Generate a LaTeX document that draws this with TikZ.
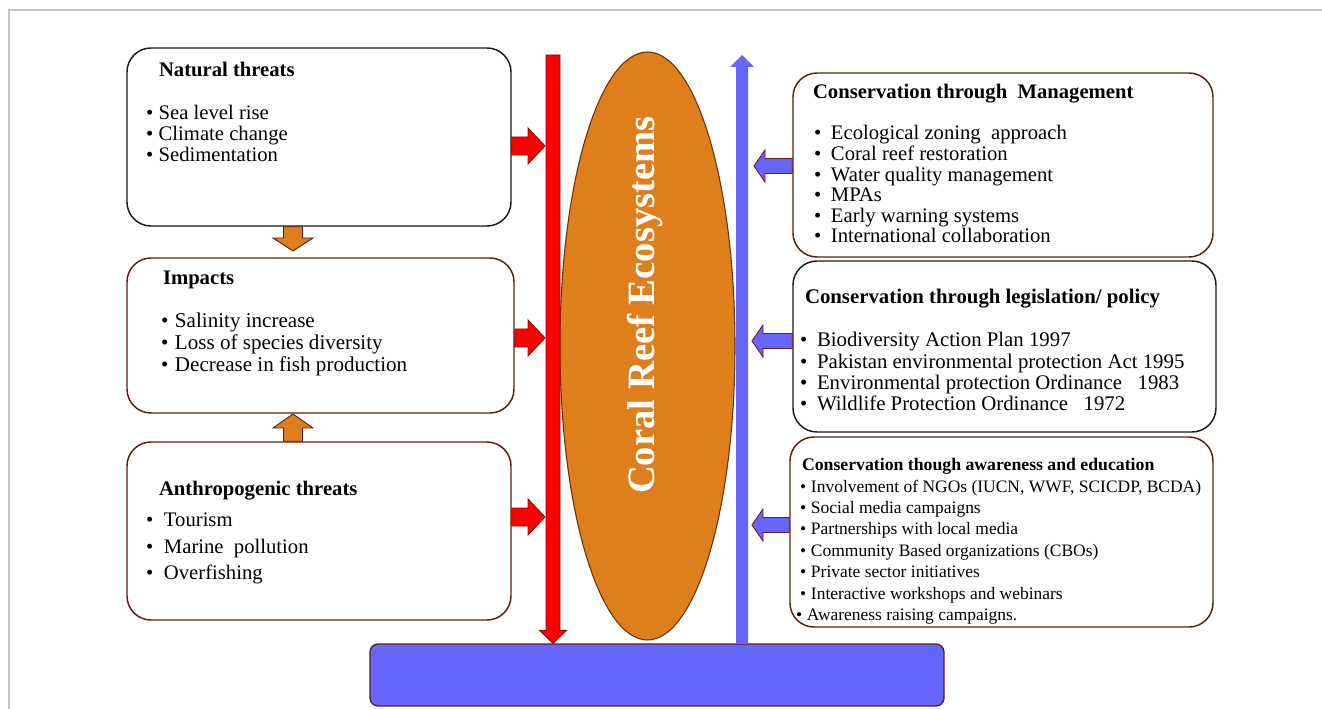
\documentclass[tikz,border=0pt]{standalone}
\usepackage{fontspec}
\setmainfont{Liberation Serif}
\usetikzlibrary{shapes.geometric,calc}
\definecolor{framegray}{HTML}{C4C4C4}
\definecolor{boxbrown}{HTML}{5A1E12}
\definecolor{boxblack}{HTML}{1A1A1A}
\definecolor{arrred}{HTML}{FF0000}
\definecolor{arrredline}{HTML}{8A0A0A}
\definecolor{reeforange}{HTML}{DF7F1C}
\definecolor{reefline}{HTML}{6B3208}
\definecolor{lblue}{HTML}{6666FF}
\definecolor{blueline}{HTML}{6E1E1E}
\newcommand\hblk[7]{\draw[#1] ($(#2)+(0,-#5)$) -- ($(#3)+({-(#4)*(#7)},-#5)$) -- ($(#3)+({-(#4)*(#7)},-#6)$) -- (#3) -- ($(#3)+({-(#4)*(#7)},#6)$) -- ($(#3)+({-(#4)*(#7)},#5)$) -- ($(#2)+(0,#5)$) -- cycle;}
\newcommand\vblk[7]{\draw[#1] ($(#2)+(-#5,0)$) -- ($(#3)+(-#5,{-(#4)*(#7)})$) -- ($(#3)+(-#6,{-(#4)*(#7)})$) -- (#3) -- ($(#3)+(#6,{-(#4)*(#7)})$) -- ($(#3)+(#5,{-(#4)*(#7)})$) -- ($(#2)+(#5,0)$) -- cycle;}
\begin{document}
\begin{tikzpicture}[x=0.75pt,y=-0.75pt,
  box/.style={draw, rounded corners=18pt, line width=1.1pt, fill=white, inner sep=0pt},
  redblk/.style={fill=arrred, draw=arrredline, line width=0.7pt, line join=miter},
  orblk/.style={fill=reeforange, draw=boxbrown, line width=0.7pt, line join=miter},
  blueblk/.style={fill=lblue, draw=blueline, line width=0.7pt, line join=miter},
  bluebar/.style={fill=lblue, draw=none},
  txt/.style={anchor=base west, inner sep=0pt, outer sep=0pt},
  ttl/.style={txt, font=\fontsize{15.5}{18}\selectfont\bfseries},
]
\useasboundingbox (0,0) rectangle (1322,709);
\fill[white] (0,0) rectangle (1322,709);
\draw[framegray, line width=1pt] (9,709) -- (9,10) -- (1322,10);

% boxes
\node[box, draw=boxblack, minimum width=288pt, minimum height=133.5pt] (nat) at (319,137) {};
\node[box, draw=boxbrown, minimum width=290.25pt, minimum height=116.25pt] (imp) at (320.5,335.5) {};
\node[box, draw=boxbrown, minimum width=288pt, minimum height=133.5pt] (ant) at (319,531) {};
\node[box, draw=boxbrown, minimum width=315pt, minimum height=138pt] (mgmt) at (1003,165) {};
\node[box, draw=boxblack, minimum width=317.25pt, minimum height=128.25pt] (leg) at (1004.5,346.5) {};
\node[box, draw=boxbrown, minimum width=317.25pt, minimum height=142.5pt] (awr) at (1001.5,532) {};
\node[draw=boxbrown, fill=lblue, rounded corners=6pt, line width=1pt, minimum width=430.5pt, minimum height=46.5pt, inner sep=0pt] (bar) at (657,675) {};
\node[ellipse, draw=reefline, fill=reeforange, line width=0.8pt, minimum width=131.25pt, minimum height=441pt, inner sep=0pt] (reef) at (647.5,346) {};
\node[rotate=90, text=white, inner sep=0pt, font=\fontsize{29}{32}\selectfont\bfseries] (reeflbl) at (645,305) {Coral Reef Ecosystems};

% vertical bars
\coordinate (rt) at (553,55);
\vblk{redblk}{rt}{rt |- bar.north}{1}{7}{13.5}{13}
\coordinate (bt) at (742,55);
\vblk{bluebar}{bt |- bar.north}{bt}{-1}{6}{12}{12}

% orange arrows
\coordinate (od) at (293,251);
\vblk{orblk}{od |- nat.south}{od}{1}{9.5}{20}{13}
\coordinate (ou) at (293,414);
\vblk{orblk}{ou |- ant.north}{ou}{-1}{9.5}{20}{14}

% red arrows to the reef
\coordinate (ra1) at (545,146);
\hblk{redblk}{nat.east |- ra1}{ra1}{1}{9}{18}{17}
\coordinate (ra2) at (545,338);
\hblk{redblk}{imp.east |- ra2}{ra2}{1}{9}{18}{17}
\coordinate (ra3) at (545,517);
\hblk{redblk}{ant.east |- ra3}{ra3}{1}{9}{18}{17}

% blue arrows from conservation boxes
\coordinate (ba1) at (754,166);
\hblk{blueblk}{mgmt.west |- ba1}{ba1}{-1}{7.5}{16}{11}
\coordinate (ba2) at (752,341);
\hblk{blueblk}{leg.west |- ba2}{ba2}{-1}{7.5}{16}{11}
\coordinate (ba3) at (752,525);
\hblk{blueblk}{awr.west |- ba3}{ba3}{-1}{7.5}{16}{11}

% texts: natural threats
\node[ttl] (natT) at (159,77) {Natural threats};
\foreach \t [count=\i from 0] in {Sea level rise, Climate change, Sedimentation}
  \node[txt, font=\fontsize{15.5}{18}\selectfont] (nat\i) at (146,{120+21*\i}) {\makebox[9.5pt][l]{\textbullet}\t};

% impacts
\node[ttl] (impT) at (163,285) {Impacts};
\foreach \t [count=\i from 0] in {Salinity increase, Loss of species diversity, Decrease in fish production}
  \node[txt, font=\fontsize{15.8}{18}\selectfont] (imp\i) at (161,{328+22*\i}) {\makebox[10.5pt][l]{\textbullet}\t};

% anthropogenic
\node[ttl] (antT) at (159,495) {Anthropogenic threats};
\foreach \t [count=\i from 0] in {Tourism, Marine\ \ pollution, Overfishing}
  \node[txt, font=\fontsize{15.5}{18}\selectfont] (ant\i) at (146,{527+26*\i}) {\makebox[13.5pt][l]{\textbullet}\t};

% management
\node[ttl] (mgmtT) at (813,99) {Conservation through\ \ Management};
\foreach \t [count=\i from 0] in {Ecological zoning\ \ approach, Coral reef restoration, Water quality management, MPAs, Early warning systems, International collaboration}
  \node[txt, font=\fontsize{15.5}{18}\selectfont] (mgmt\i) at (814,{140+20.6*\i}) {\makebox[12.75pt][l]{\textbullet}\t};

% legislation
\node[ttl, font=\fontsize{15.6}{18}\selectfont\bfseries] (legT) at (805,304) {Conservation through legislation/ policy};
\foreach \t [count=\i from 0] in {Biodiversity Action Plan 1997, Pakistan environmental protection Act 1995, Environmental protection Ordinance\ \ \ 1983, Wildlife Protection Ordinance\ \ \ 1972}
  \node[txt, font=\fontsize{15.6}{18}\selectfont] (leg\i) at (800,{347+21.3*\i}) {\makebox[12.75pt][l]{\textbullet}\t};

% awareness
\node[ttl, font=\fontsize{13.3}{16}\selectfont\bfseries] (awrT) at (802,470) {Conservation though awareness and education};
\foreach \t [count=\i from 0] in {{Involvement of NGOs (IUCN, WWF, SCICDP, BCDA)}, Social media campaigns, Partnerships with local media, Community Based organizations (CBOs), Private sector initiatives, Interactive workshops and webinars}
  \node[txt, font=\fontsize{13.1}{16}\selectfont] (awr\i) at (800,{492+21.4*\i}) {\makebox[8.25pt][l]{\textbullet}\t};
\node[txt, font=\fontsize{13.1}{16}\selectfont] (awr6) at (796,620) {\makebox[8.25pt][l]{\textbullet}Awareness raising campaigns.};
\end{tikzpicture}
\end{document}
